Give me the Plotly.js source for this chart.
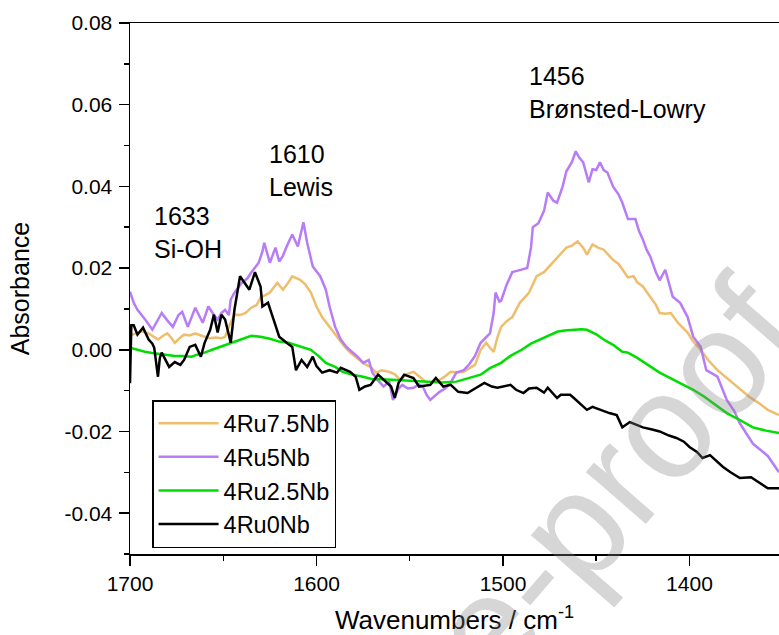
<!DOCTYPE html>
<html>
<head>
<meta charset="utf-8">
<script src="https://cdn.plot.ly/plotly-3.0.1.min.js"></script>
<style>html,body{margin:0;padding:0;background:#fff;}#chart{width:779px;height:635px;}</style>
</head>
<body>
<div id="chart"></div>
<script>
// ---- Data ----
var seriesNames = ['4Ru7.5Nb', '4Ru5Nb', '4Ru2.5Nb', '4Ru0Nb'];

var wn7_5 = [1700,1697,1694,1690,1687,1685,1682,1680,1678,1676,1673,1671,1668,1665,1662,1660,1657,1654,1651,1649,1647,1644,1641,1638,1635,1632,1630,1627,1625,1621,1618,1615,1613,1609,1606,1603,1600,1597,1593,1590,1588,1585,1582,1577,1574,1571,1568,1565,1561,1558,1555,1552,1548,1545,1541,1538,1534,1531,1528,1524,1521,1518,1515,1512,1509,1507,1505,1503,1501,1498,1495,1491,1488,1486,1484,1482,1478,1475,1472,1469,1466,1463,1460,1457,1455,1452,1449,1446,1443,1441,1438,1436,1433,1430,1428,1425,1421,1418,1416,1413,1410,1406,1401,1398,1394,1390,1385,1381,1377,1373,1368,1363,1358,1352];
var abs7_5 = [0.0035,0.004,0.0045,0.004,0.003,0.0025,0.0035,0.004,0.003,0.0017,0.003,0.0037,0.0035,0.004,0.0035,0.0032,0.0028,0.003,0.0028,0.0032,0.0056,0.0086,0.0085,0.009,0.0103,0.011,0.0128,0.0135,0.014,0.0164,0.0147,0.0165,0.018,0.0172,0.016,0.014,0.0106,0.008,0.0056,0.004,0.0025,0.0008,-0.0007,-0.0025,-0.0035,-0.0042,-0.0056,-0.005,-0.0054,-0.006,-0.0074,-0.006,-0.0054,-0.0065,-0.008,-0.0078,-0.0074,-0.0065,-0.0054,-0.0055,-0.0054,-0.0045,-0.0037,0.0,0.0017,0.0005,-0.0005,0.003,0.0056,0.007,0.008,0.0115,0.013,0.014,0.016,0.018,0.019,0.0204,0.022,0.0235,0.025,0.0255,0.0265,0.025,0.0233,0.0258,0.025,0.0245,0.023,0.022,0.021,0.0196,0.0177,0.018,0.0165,0.0155,0.013,0.011,0.009,0.0088,0.009,0.0065,0.0042,0.002,0.0,-0.0025,-0.005,-0.0065,-0.008,-0.0095,-0.0115,-0.013,-0.0147,-0.016];

var wn5 = [1700,1698,1696,1692,1688,1685,1683,1680,1677,1674,1672,1669,1667,1665,1661,1658,1655,1653,1651,1649,1647,1646,1644,1640,1637,1635,1631,1629,1628,1625,1622,1620,1618,1616,1613,1610,1607,1605,1602,1598,1595,1593,1590,1587,1584,1581,1578,1575,1572,1570,1567,1564,1561,1559,1556,1554,1551,1548,1545,1543,1541,1539,1536,1534,1531,1528,1525,1521,1518,1515,1512,1509,1507,1505,1504,1502,1501,1498,1495,1491,1487,1485,1484,1481,1478,1476,1473,1471,1468,1466,1463,1461,1459,1457,1455,1454,1452,1450,1448,1446,1444,1441,1438,1436,1433,1429,1427,1425,1423,1421,1418,1416,1413,1411,1409,1405,1401,1398,1394,1391,1388,1385,1380,1376,1373,1369,1366,1362,1358,1352];
var abs5 = [0.0142,0.0115,0.0098,0.0075,0.0049,0.0075,0.009,0.0072,0.0056,0.0085,0.0093,0.0056,0.008,0.0103,0.0066,0.0106,0.0085,0.0074,0.009,0.0098,0.0085,0.0123,0.014,0.0164,0.0175,0.0189,0.0213,0.024,0.0262,0.0213,0.025,0.0216,0.023,0.0253,0.0282,0.0253,0.0312,0.0262,0.0204,0.018,0.0147,0.0106,0.0056,0.0025,0.0007,-0.0005,-0.0017,-0.0032,-0.0025,-0.0056,-0.0075,-0.009,-0.0078,-0.0123,-0.0095,-0.0086,-0.0095,-0.0093,-0.0085,-0.009,-0.011,-0.0123,-0.011,-0.0103,-0.0095,-0.008,-0.0056,-0.005,-0.0035,-0.0015,0.0017,0.003,0.004,0.009,0.014,0.0118,0.012,0.016,0.019,0.0195,0.020,0.025,0.030,0.031,0.034,0.0385,0.0365,0.036,0.040,0.0437,0.046,0.0486,0.047,0.0459,0.043,0.041,0.0442,0.044,0.0459,0.044,0.0434,0.040,0.038,0.036,0.032,0.032,0.029,0.027,0.0245,0.0228,0.019,0.017,0.0196,0.016,0.013,0.0115,0.008,0.0032,0.0007,-0.005,-0.0058,-0.0066,-0.0123,-0.015,-0.018,-0.021,-0.023,-0.0245,-0.026,-0.030];

var wn2_5 = [1700,1696,1692,1688,1684,1680,1676,1672,1667,1664,1660,1656,1653,1648,1644,1640,1635,1630,1625,1620,1615,1610,1606,1603,1599,1595,1590,1586,1580,1575,1570,1565,1557,1550,1543,1539,1533,1525,1518,1512,1507,1501,1496,1490,1485,1480,1475,1471,1467,1462,1458,1455,1450,1446,1441,1436,1433,1428,1421,1416,1410,1404,1398,1392,1386,1380,1373,1366,1359,1352];
var abs2_5 = [0.0005,0.0,-0.0005,-0.0008,-0.001,-0.0012,-0.0015,-0.0015,-0.0017,-0.0012,-0.0007,0.0,0.0005,0.0012,0.002,0.0027,0.0034,0.0032,0.0027,0.002,0.0017,0.001,0.0005,0.0,-0.0015,-0.0032,-0.0042,-0.0054,-0.0062,-0.0066,-0.0072,-0.0072,-0.0074,-0.0076,-0.0078,-0.0078,-0.008,-0.0078,-0.0069,-0.0061,-0.0045,-0.0032,-0.0015,0.0,0.0015,0.0025,0.0034,0.0044,0.0047,0.0049,0.005,0.0049,0.0038,0.0025,0.0012,-0.0005,-0.0007,-0.002,-0.0042,-0.0056,-0.007,-0.0083,-0.0098,-0.0115,-0.0135,-0.0155,-0.0172,-0.019,-0.0198,-0.0204];

var wn0 = [1700,1699.3,1698,1696,1693,1690,1688,1687,1685,1684,1683,1681,1679,1676,1673,1671,1668,1665,1662,1660,1657,1655,1653,1651,1649,1646,1644,1641,1638,1636,1633,1630,1629,1626,1623,1620,1616,1613,1611,1608,1605,1602,1600,1597,1593,1589,1587,1584,1582,1579,1577,1574,1571,1567,1562,1560,1558,1556,1553,1548,1545,1539,1536,1532,1528,1524,1519,1514,1510,1506,1503,1496,1493,1489,1486,1482,1478,1476,1471,1469,1464,1462,1457,1455,1452,1448,1443,1439,1436,1432,1428,1425,1420,1416,1411,1407,1403,1400,1396,1393,1389,1386,1382,1378,1373,1367,1362,1358,1352];
var abs0 = [-0.0082,0.006,0.006,0.0037,0.0054,0.0025,0.0015,0.0005,-0.0066,-0.002,-0.0007,-0.0025,-0.0042,-0.003,-0.0037,-0.0025,0.0007,0.0012,-0.0017,0.0017,0.0049,0.0086,0.0042,0.0086,0.0074,0.0017,0.0098,0.018,0.016,0.0147,0.019,0.0155,0.0106,0.0115,0.0074,0.0032,0.0017,0.0007,-0.005,-0.0025,-0.0042,-0.0017,-0.004,-0.0056,-0.005,-0.0056,-0.0044,-0.005,-0.0054,-0.0066,-0.0098,-0.009,-0.0086,-0.0061,-0.0081,-0.009,-0.0118,-0.0081,-0.0061,-0.0069,-0.009,-0.0086,-0.0069,-0.009,-0.0086,-0.0103,-0.0106,-0.0093,-0.0081,-0.009,-0.0093,-0.0086,-0.0098,-0.0106,-0.0095,-0.0093,-0.0105,-0.0093,-0.0118,-0.011,-0.011,-0.0118,-0.014,-0.0147,-0.014,-0.0147,-0.0155,-0.016,-0.019,-0.0177,-0.0185,-0.019,-0.0195,-0.020,-0.021,-0.0216,-0.0225,-0.0238,-0.025,-0.0265,-0.0258,-0.027,-0.0287,-0.030,-0.0314,-0.0312,-0.0326,-0.0339,-0.0339];

var xTickVals = [1700, 1600, 1500, 1400];
var xTickText = ['1700', '1600', '1500', '1400'];
var yTickVals = [-0.04, -0.02, 0.00, 0.02, 0.04, 0.06, 0.08];
var yTickText = ['-0.04', '-0.02', '0.00', '0.02', '0.04', '0.06', '0.08'];

var peakLabels = ['1633<br>Si-OH', '1610<br>Lewis', '1456<br>Brønsted-Lowry'];
var watermarkText = 'e-proof';

// ---- Styles ----
var colors = ['#EEBE6C', '#B77CF6', '#00DD00', '#000000'];
var FONT = 'Liberation Sans, Arial, Helvetica, sans-serif';

var xs = [wn7_5, wn5, wn2_5, wn0];
var ys = [abs7_5, abs5, abs2_5, abs0];
var traces = seriesNames.map(function (n, i) {
  return {
    x: xs[i], y: ys[i], name: n, type: 'scatter', mode: 'lines',
    line: {color: colors[i], width: 2.5}
  };
});

var labelPos = [
  {x: 0.034, y: 0.606},
  {x: 0.211, y: 0.723},
  {x: 0.611, y: 0.870}
];
var annotations = peakLabels.map(function (t, i) {
  return {
    text: t, xref: 'paper', yref: 'paper', x: labelPos[i].x, y: labelPos[i].y,
    xanchor: 'left', yanchor: 'middle', align: 'left', showarrow: false,
    font: {family: FONT, size: 25, color: '#000'}
  };
});
annotations.push({
  text: watermarkText, xref: 'paper', yref: 'paper', x: 0.745, y: 0.135,
  xanchor: 'center', yanchor: 'middle', showarrow: false, textangle: -49,
  font: {family: FONT, size: 150, color: 'rgba(130,130,130,0.33)'}
});

var layout = {
  width: 779, height: 635,
  margin: {l: 130, r: 0, t: 23, b: 81, pad: 0},
  paper_bgcolor: '#fff', plot_bgcolor: '#fff',
  font: {family: FONT, size: 21, color: '#000'},
  showlegend: true,
  legend: {
    x: 0.034, y: 0.29, xanchor: 'left', yanchor: 'top',
    bgcolor: '#fff', bordercolor: '#000', borderwidth: 1.5,
    font: {family: FONT, size: 23.5, color: '#000'},
    itemwidth: 60, tracegroupgap: 0
  },
  xaxis: {
    range: [1700, 1352], showgrid: false, zeroline: false,
    showline: true, linecolor: '#000', linewidth: 1.5, mirror: true,
    ticks: 'outside', ticklen: 10, tickwidth: 1.5, tickcolor: '#000',
    tickvals: xTickVals, ticktext: xTickText,
    tickfont: {family: FONT, size: 21},
    minor: {dtick: 50, tick0: 1350, ticks: 'outside', ticklen: 5, tickwidth: 1.5, tickcolor: '#000', showgrid: false},
    title: {text: 'Wavenumbers / cm<sup>-1</sup>', font: {family: FONT, size: 26}, standoff: 20}
  },
  yaxis: {
    range: [-0.05, 0.08], showgrid: false, zeroline: false,
    showline: true, linecolor: '#000', linewidth: 1.5, mirror: false,
    ticks: 'outside', ticklen: 10, tickwidth: 1.5, tickcolor: '#000',
    tickvals: yTickVals, ticktext: yTickText, ticklabelstandoff: 2,
    tickfont: {family: FONT, size: 21},
    minor: {dtick: 0.01, tick0: 0, ticks: 'outside', ticklen: 5, tickwidth: 1.5, tickcolor: '#000', showgrid: false},
    title: {text: 'Absorbance', font: {family: FONT, size: 25}, standoff: 27}
  },
  annotations: annotations
};

Plotly.newPlot('chart', traces, layout, {displayModeBar: false, staticPlot: true});
</script>
</body>
</html>
